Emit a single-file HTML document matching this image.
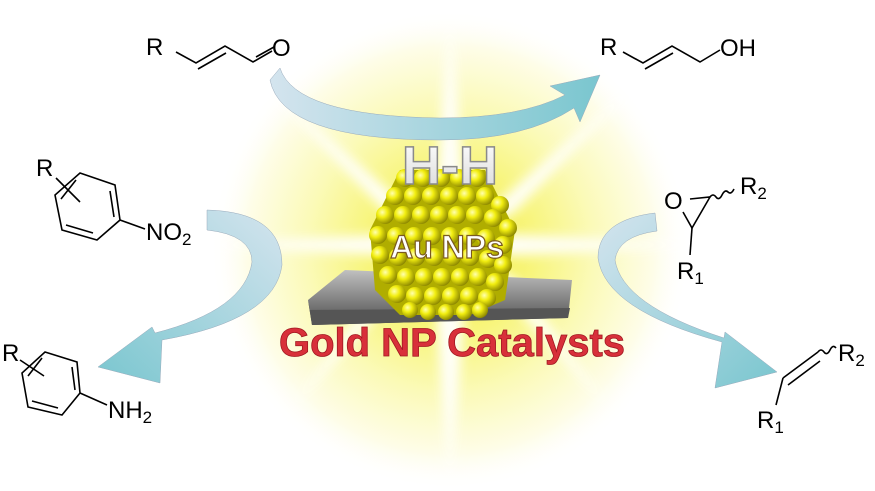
<!DOCTYPE html>
<html><head><meta charset="utf-8"><style>
html,body{margin:0;padding:0;background:#fff;width:875px;height:491px;overflow:hidden}
svg{display:block;overflow:hidden}
text{font-family:"Liberation Sans",sans-serif}
</style></head><body>
<svg width="875" height="491" viewBox="0 0 875 491" xmlns="http://www.w3.org/2000/svg">
<defs>
<radialGradient id="glow" cx="450" cy="250" r="240" gradientUnits="userSpaceOnUse">
<stop offset="0" stop-color="#f2ee20"/>
<stop offset="0.3" stop-color="#f7f470"/>
<stop offset="0.6" stop-color="#fbfab8"/>
<stop offset="0.85" stop-color="#fefde8"/>
<stop offset="1" stop-color="#ffffff" stop-opacity="0"/>
</radialGradient>
<linearGradient id="arr" x1="0" y1="0" x2="1" y2="0">
<stop offset="0" stop-color="#d4e4ee"/>
<stop offset="1" stop-color="#7ac6cf"/>
</linearGradient>
<linearGradient id="arrL" x1="1" y1="0" x2="0" y2="1">
<stop offset="0" stop-color="#d4e4ee"/>
<stop offset="1" stop-color="#7ac6cf"/>
</linearGradient>
<linearGradient id="arrR" x1="0" y1="0" x2="1" y2="1">
<stop offset="0" stop-color="#d4e4ee"/>
<stop offset="1" stop-color="#7ac6cf"/>
</linearGradient>
<radialGradient id="ball" cx="0.35" cy="0.35" r="0.7">
<stop offset="0" stop-color="#ffffb0"/>
<stop offset="0.4" stop-color="#f2ee10"/>
<stop offset="1" stop-color="#8a8500"/>
</radialGradient>
<linearGradient id="plat" x1="0" y1="0" x2="0" y2="1">
<stop offset="0" stop-color="#c0c0c0"/>
<stop offset="0.7" stop-color="#707070"/>
<stop offset="1" stop-color="#404040"/>
</linearGradient>
<linearGradient id="hh" x1="0" y1="0" x2="0" y2="1">
<stop offset="0" stop-color="#ffffff"/>
<stop offset="1" stop-color="#d8d8d8"/>
</linearGradient>
<filter id="blur"><feGaussianBlur stdDeviation="6"/></filter>
</defs>
<rect width="875" height="491" fill="#fff"/>
<rect width="875" height="491" fill="url(#glow)"/>
<g fill="#fff" opacity="0.95" filter="url(#blur)">
<polygon points="450,20 464,180 450,245 436,180"/>
<polygon points="450,480 464,320 450,245 436,320"/>
<polygon points="200,245 390,234 450,245 390,256"/>
<polygon points="700,245 510,234 450,245 510,256"/>
<polygon points="260,80 400,200 450,245 385,212"/>
<polygon points="640,80 500,200 450,245 515,212"/>
<polygon points="290,410 400,290 450,245 385,278"/>
<polygon points="610,410 500,290 450,245 515,278"/>
</g>
<!-- arrows -->
<path d="M280,68 Q295,116 440,118 Q520,118 565,95 L550,86 L600,75 L580,122 L574,108 Q525,140 440,140 Q282,140 270,80 Z" fill="url(#arr)" stroke="#9ab" stroke-width="0.5"/>
<path d="M207,210 Q282,212 282,265 Q275,320 162,340 L160,383 L98,367 L152,327 L155,333 Q245,310 252,262 Q252,235 207,230 Z" fill="url(#arrL)" stroke="#9ab" stroke-width="0.5"/>
<path d="M655,213 Q598,220 598,258 Q605,310 722,342 L715,388 L777,372 L725,332 L724,338 Q622,305 615,260 Q618,236 657,231 Z" fill="url(#arrR)" stroke="#9ab" stroke-width="0.5"/>
<!-- platform -->
<polygon points="308,300 345,270 572,280 568,318 312,325" fill="url(#plat)"/>
<polygon points="308,300 312,325 568,318 570,308 310,310" fill="#555"/>
<!-- nanoparticle -->
<g>
<polygon points="370,230 400,170 485,170 515,230 505,300 470,315 400,315 375,290" fill="#b0ad00"/>
<g fill="url(#ball)">
<circle cx="405" cy="178" r="9"/><circle cx="423" cy="178" r="9"/><circle cx="441" cy="178" r="9"/><circle cx="459" cy="178" r="9"/><circle cx="477" cy="178" r="9"/>
<circle cx="395" cy="196" r="9"/><circle cx="413" cy="196" r="9"/><circle cx="431" cy="196" r="9"/><circle cx="449" cy="196" r="9"/><circle cx="467" cy="196" r="9"/><circle cx="485" cy="196" r="9"/><circle cx="500" cy="205" r="9"/>
<circle cx="385" cy="215" r="9"/><circle cx="403" cy="215" r="9"/><circle cx="421" cy="215" r="9"/><circle cx="439" cy="215" r="9"/><circle cx="457" cy="215" r="9"/><circle cx="475" cy="215" r="9"/><circle cx="493" cy="218" r="9"/><circle cx="508" cy="228" r="9"/>
<circle cx="378" cy="235" r="9"/><circle cx="396" cy="236" r="9"/><circle cx="414" cy="236" r="9"/><circle cx="432" cy="236" r="9"/><circle cx="450" cy="236" r="9"/><circle cx="468" cy="236" r="9"/><circle cx="486" cy="238" r="9"/><circle cx="503" cy="245" r="9"/>
<circle cx="380" cy="255" r="9"/><circle cx="398" cy="257" r="9"/><circle cx="416" cy="257" r="9"/><circle cx="434" cy="257" r="9"/><circle cx="452" cy="257" r="9"/><circle cx="470" cy="257" r="9"/><circle cx="488" cy="259" r="9"/><circle cx="503" cy="265" r="9"/>
<circle cx="388" cy="275" r="9"/><circle cx="406" cy="277" r="9"/><circle cx="424" cy="277" r="9"/><circle cx="442" cy="277" r="9"/><circle cx="460" cy="277" r="9"/><circle cx="478" cy="277" r="9"/><circle cx="495" cy="282" r="9"/>
<circle cx="397" cy="294" r="9"/><circle cx="415" cy="296" r="9"/><circle cx="433" cy="296" r="9"/><circle cx="451" cy="296" r="9"/><circle cx="469" cy="296" r="9"/><circle cx="487" cy="298" r="9"/>
<circle cx="410" cy="310" r="8"/><circle cx="428" cy="312" r="8"/><circle cx="446" cy="312" r="8"/><circle cx="464" cy="312" r="8"/><circle cx="480" cy="310" r="8"/>
</g>
</g>
<!-- labels -->
<text x="450" y="184" text-anchor="middle" font-size="54" font-weight="bold" fill="url(#hh)" stroke="#8a8a8a" stroke-width="1.5">H-H</text>
<text x="447" y="258" text-anchor="middle" font-size="32" font-weight="bold" fill="#fff" stroke="#7a5a20" stroke-width="1.2">Au NPs</text>
<text x="452" y="356" text-anchor="middle" font-size="40" font-weight="bold" fill="#d8303a" stroke="#a01820" stroke-width="0.8">Gold NP Catalysts</text>
<!-- molecules -->
<g stroke="#000" stroke-width="1.6" fill="none">
<path d="M176,52 L196,63 L225,46 L253,62 L272,51"/>
<path d="M198,69 L226,53"/>
<path d="M256,57 L274,47"/>
<path d="M623,52 L643,63 L672,46 L700,62 L720,50"/>
<path d="M645,69 L673,53"/>
<polygon points="80,173 115,185 120,220 97,240 62,230 55,195"/>
<path d="M110,191 L114,217 M93,233 L66,225 M61,199 L76,180"/>
<path d="M120,220 L145,229"/>
<path d="M56,178 L80,202"/>
<polygon points="45,352 77,362 80,393 62,415 28,407 22,373"/>
<path d="M72,367 L75,390 M58,408 L32,401 M28,376 L42,358"/>
<path d="M80,393 L107,405"/>
<path d="M20,360 L44,376"/>
<path d="M690,199 L710,197 L692,228 L683,212"/>
<path d="M692,228 L690,255"/>
<path d="M710,197 q3,-4 6,0 t6,-2 t6,-3 t6,-3"/>
<path d="M783,378 L818,352 M788,385 L820,361"/>
<path d="M783,378 L776,405"/>
<path d="M818,352 q3,-4 6,0 t6,-2 t6,-2"/>
</g>
<g font-size="24" fill="#000">
<text x="146" y="55">R</text>
<text x="272" y="56">O</text>
<text x="600" y="55">R</text>
<text x="720" y="56">OH</text>
<text x="36" y="176">R</text>
<text x="146" y="240">NO<tspan font-size="17" dy="5">2</tspan></text>
<text x="2" y="361">R</text>
<text x="108" y="418">NH<tspan font-size="17" dy="5">2</tspan></text>
<text x="664" y="209">O</text>
<text x="740" y="194">R<tspan font-size="17" dy="5">2</tspan></text>
<text x="677" y="279">R<tspan font-size="17" dy="5">1</tspan></text>
<text x="838" y="361">R<tspan font-size="17" dy="5">2</tspan></text>
<text x="757" y="428">R<tspan font-size="17" dy="5">1</tspan></text>
</g>
</svg>
</body></html>
